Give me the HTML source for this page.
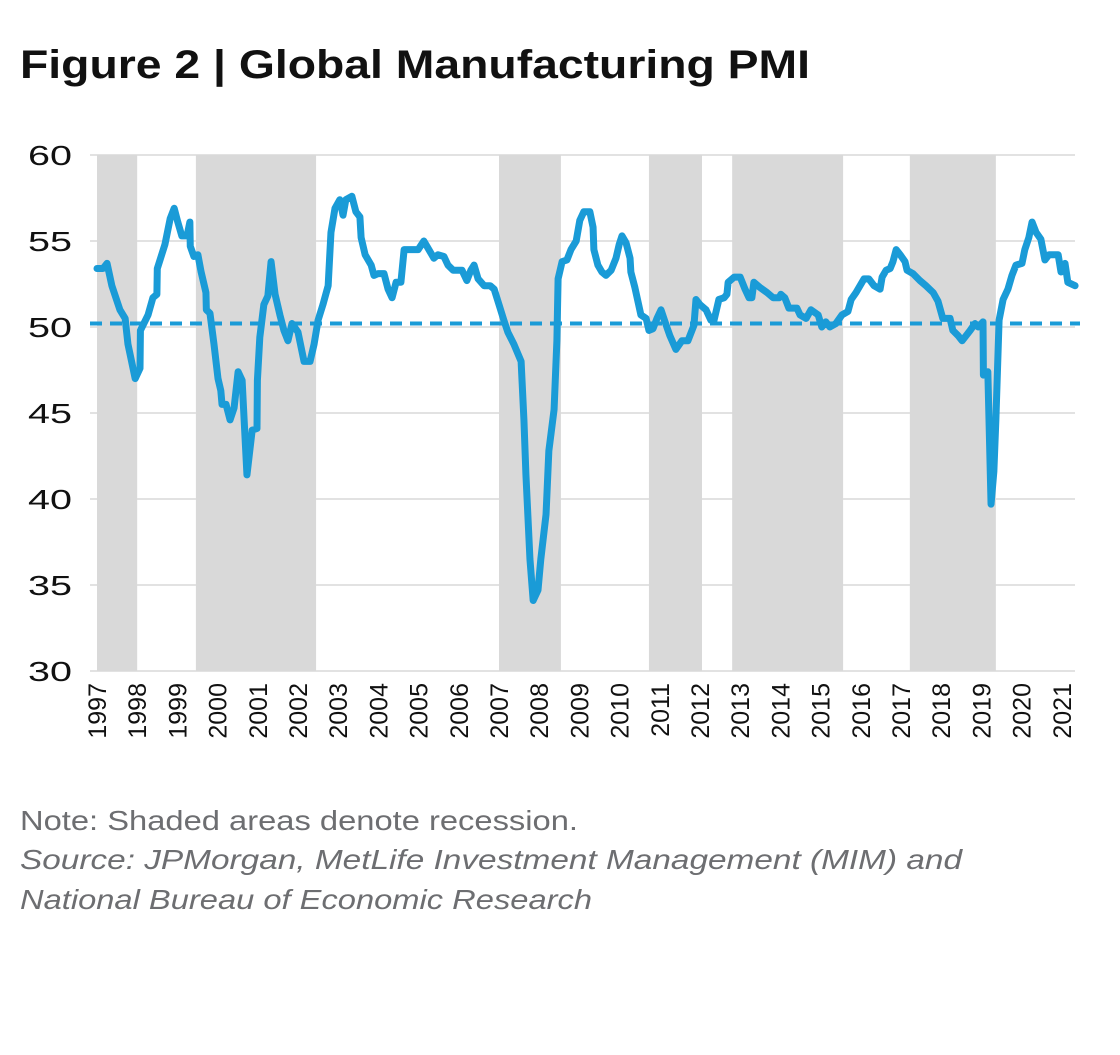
<!DOCTYPE html>
<html><head><meta charset="utf-8"><style>
body{margin:0;background:#fff;width:1120px;height:1050px;overflow:hidden;font-family:"Liberation Sans",sans-serif}
</style></head><body>
<svg width="1120" height="1050" xmlns="http://www.w3.org/2000/svg">
<text x="20" y="78" font-size="40" font-weight="bold" fill="#111" textLength="790" lengthAdjust="spacingAndGlyphs">Figure 2  |  Global Manufacturing PMI</text>
<g id="plot"></g>
<text x="20" y="830" font-size="28" fill="#6d6e71" textLength="558" lengthAdjust="spacingAndGlyphs">Note: Shaded areas denote recession.</text>
<text x="20" y="869" font-size="28" font-style="italic" fill="#6d6e71" textLength="942" lengthAdjust="spacingAndGlyphs">Source: JPMorgan, MetLife Investment Management (MIM) and</text>
<text x="20" y="909" font-size="28" font-style="italic" fill="#6d6e71" textLength="572" lengthAdjust="spacingAndGlyphs">National Bureau of Economic Research</text>
</svg>
<script>
const yTicks=[30,35,40,45,50,55,60];
const years=[1997,1998,1999,2000,2001,2002,2003,2004,2005,2006,2007,2008,2009,2010,2011,2012,2013,2014,2015,2016,2017,2018,2019,2020,2021];
const recStart=[0,2.46,10.0,13.73,15.80,20.22];
const recEnd=[1.0,5.45,11.54,15.05,18.56,22.36];
const threshold=50.2;
const tOff=[0,.15,.25,.37,.57,.70,.77,.95,1.07,1.08,1.27,1.39,1.49,1.50,1.69,1.82,1.92,2.01,2.11,2.24,2.31,2.32,2.41,2.51,2.59,2.71,2.72,2.81,2.91,3.01,3.08,3.11,3.21,3.31,3.41,3.51,3.61,3.66,3.73,3.86,3.98,3.99,4.05,4.15,4.25,4.33,4.43,4.55,4.65,4.75,4.85,5.00,5.15,5.30,5.40,5.50,5.62,5.75,5.82,5.92,6.04,6.12,6.19,6.34,6.44,6.54,6.57,6.67,6.82,6.89,6.99,7.14,7.24,7.34,7.44,7.56,7.64,7.79,7.99,8.13,8.28,8.38,8.48,8.63,8.73,8.86,8.98,9.08,9.20,9.30,9.38,9.48,9.63,9.78,9.88,10.0,10.12,10.22,10.37,10.55,10.62,10.67,10.77,10.85,10.97,11.04,11.17,11.24,11.37,11.44,11.47,11.57,11.69,11.79,11.92,12.01,12.11,12.26,12.34,12.36,12.46,12.56,12.66,12.79,12.91,12.99,13.06,13.16,13.26,13.28,13.38,13.53,13.66,13.73,13.83,13.93,14.03,14.13,14.25,14.40,14.55,14.70,14.85,14.90,15.0,15.15,15.27,15.35,15.47,15.60,15.67,15.70,15.85,16.0,16.12,16.22,16.29,16.34,16.49,16.67,16.82,16.97,17.01,17.11,17.21,17.41,17.49,17.64,17.76,17.94,18.03,18.13,18.23,18.38,18.53,18.68,18.76,18.88,18.98,19.08,19.20,19.33,19.48,19.53,19.63,19.73,19.80,19.88,19.98,20.10,20.15,20.30,20.47,20.62,20.80,20.92,21.04,21.22,21.29,21.42,21.52,21.62,21.72,21.84,21.92,22.04,22.05,22.16,22.24,22.31,22.36,22.44,22.54,22.66,22.76,22.86,23.01,23.08,23.18,23.26,23.36,23.48,23.58,23.68,23.91,23.98,24.08,24.15,24.33];
const pmi=[53.4,53.4,53.7,52.4,51,50.5,49,47,47.6,49.8,50.7,51.7,51.9,53.4,54.8,56.3,56.9,56.1,55.3,55.3,56.1,54.7,54.1,54.2,53.2,52,51,50.8,49,47,46.3,45.5,45.5,44.6,45.3,47.4,46.9,44.6,41.4,44,44.1,46.9,49.4,51.3,51.8,53.8,51.9,50.7,49.8,49.2,50.2,49.7,48,48,49,50.4,51.3,52.4,55.5,56.9,57.4,56.5,57.4,57.6,56.7,56.4,55.2,54.2,53.6,53,53.1,53.1,52.2,51.7,52.6,52.6,54.5,54.5,54.5,55,54.4,54,54.2,54.1,53.6,53.3,53.3,53.3,52.7,53.3,53.6,52.8,52.4,52.4,52.2,51.3,50.4,49.7,49,48,44.6,41.4,36.5,34.1,34.7,36.5,39.1,42.8,45.2,49.2,52.8,53.8,53.9,54.5,55,56.2,56.7,56.7,55.8,54.5,53.6,53.2,53,53.3,54,54.8,55.3,54.9,54,53.2,52.3,50.7,50.5,49.8,49.9,50.5,51,50.3,49.5,48.7,49.2,49.2,50.1,51.6,51.3,51,50.4,50.4,51.6,51.7,51.9,52.6,52.9,52.9,52.2,51.7,51.7,52.6,52.3,52,51.7,51.7,51.9,51.7,51.1,51.1,50.7,50.5,51,50.7,50,50.3,50,50.2,50.7,50.9,51.6,52,52.4,52.8,52.8,52.4,52.2,52.9,53.3,53.4,53.8,54.5,54.2,53.8,53.3,53.1,52.7,52.4,52,51.5,50.5,50.5,49.8,49.5,49.2,49.5,49.8,50.2,50,50.3,47.2,47.4,39.7,41.6,44.6,50.4,51.6,52.2,53,53.6,53.7,54.5,55.2,56.1,55.5,55.1,53.9,54.2,54.2,53.2,53.7,52.6,52.4];
const NS='http://www.w3.org/2000/svg';
const L=90,R=1075,T=155,B=671;
const xs=o=>97+o*40.2;
const ys=v=>B-(v-30)*(B-T)/30;
const g=document.getElementById('plot');
function mk(tag,at){const e=document.createElementNS(NS,tag);for(const k in at)e.setAttribute(k,at[k]);g.appendChild(e);return e;}
recStart.forEach((s,i)=>{const e=mk('rect',{x:xs(s),y:T,width:xs(recEnd[i])-xs(s),height:B-T,fill:'#d9d9d9'});

});
yTicks.forEach(v=>{const l=mk('line',{x1:L,x2:R,y1:ys(v),y2:ys(v),stroke:'#d9d9d9','stroke-width':1.5});


const t=mk('text',{x:72,y:ys(v)+10,'font-size':28,'text-anchor':'end',fill:'#111',textLength:44,lengthAdjust:'spacingAndGlyphs'});t.textContent=v;

});
years.forEach((y,i)=>{const x=xs(i)+9;const t=mk('text',{x:0,y:0,'font-size':25,'text-anchor':'end',fill:'#111',transform:`translate(${x},683) rotate(-90)`});t.textContent=y;

});
const th=mk('line',{x1:L,x2:R+5,y1:ys(threshold),y2:ys(threshold),stroke:'#1a9bd7','stroke-width':4,'stroke-dasharray':'12,8'});


const p=mk('polyline',{points:tOff.map((o,i)=>xs(o)+','+ys(pmi[i])).join(' '),fill:'none',stroke:'#1a9bd7','stroke-width':7,'stroke-linejoin':'round','stroke-linecap':'round'});


</script>
</body></html>
